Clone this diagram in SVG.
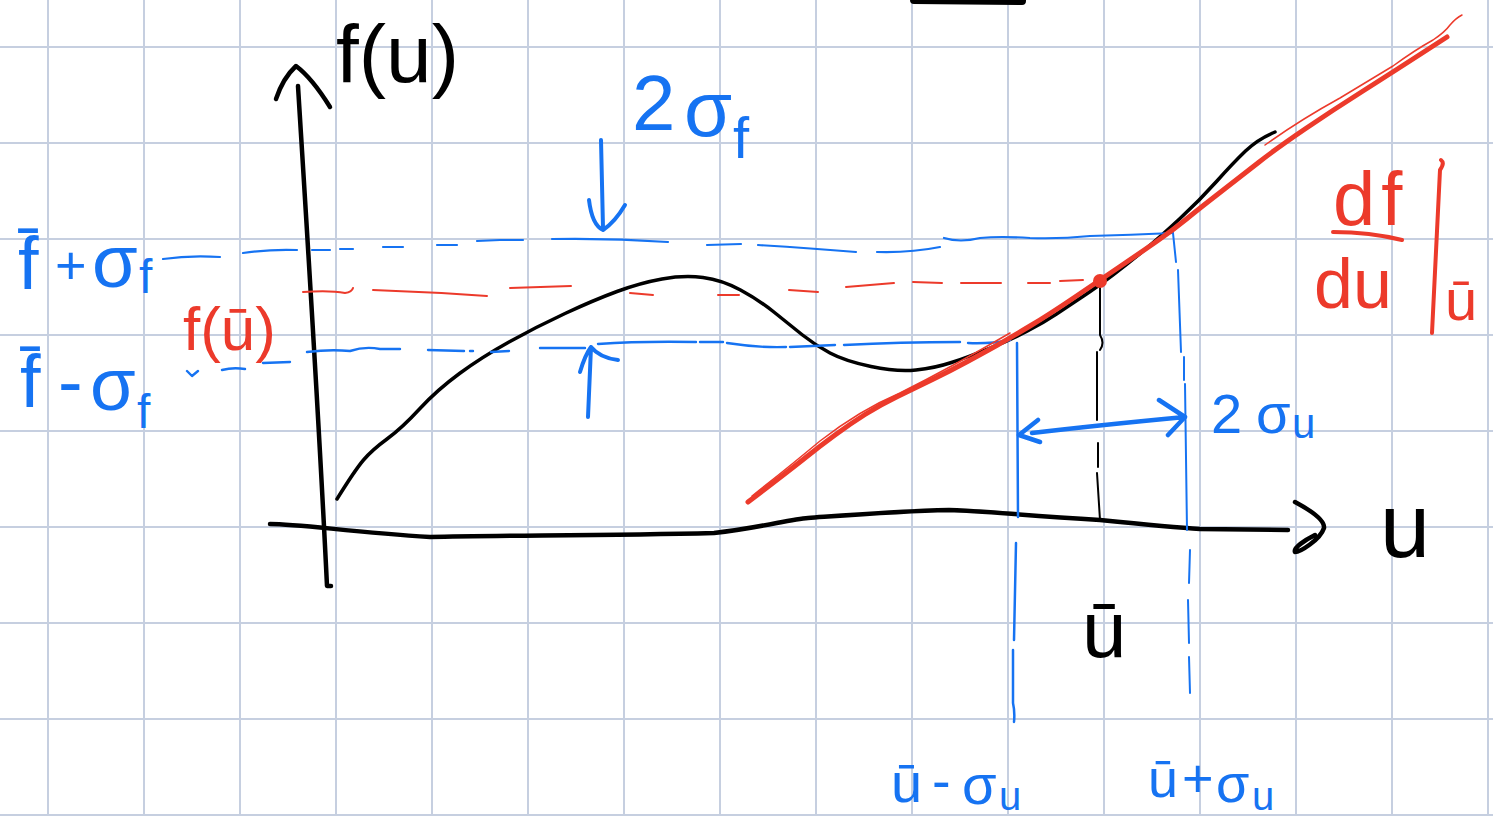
<svg xmlns="http://www.w3.org/2000/svg" width="1493" height="816" viewBox="0 0 1493 816">
<style>
.grid{stroke:#c6cfe0;stroke-width:2;fill:none}
.k{stroke:#000;fill:none;stroke-linecap:round;stroke-linejoin:round}
.b{stroke:#1673f2;fill:none;stroke-linecap:round;stroke-linejoin:round}
.r{stroke:#ec3a2b;fill:none;stroke-linecap:round;stroke-linejoin:round}
text{font-family:"Liberation Sans",Arial,sans-serif}
.tb{fill:#1673f2}
.tr{fill:#ec3a2b}
.tk{fill:#000}
</style>
<rect width="1493" height="816" fill="#fff"/>
<g id="grid" class="grid">
<path d="M48,0V816M144,0V816M240,0V816M336,0V816M432,0V816M528,0V816M624,0V816M720,0V816M816,0V816M912,0V816M1008,0V816M1104,0V816M1200,0V816M1296,0V816M1392,0V816M1488,0V816"/>
<path d="M0,47H1493M0,143H1493M0,239H1493M0,335H1493M0,431H1493M0,527H1493M0,623H1493M0,719H1493M0,815H1493"/>
</g>
<g id="top-stroke"><path class="k" stroke-width="8" d="M914,0 L1022,1"/></g>
<g id="connectors">
<!-- y axis -->
<path class="k" stroke-width="4.5" d="M298,86 C305,200 318,400 327,586 L331,586"/>
<path class="k" stroke-width="4.5" d="M276,99 Q283,78 296,66 Q312,78 330,107"/>
<!-- x axis -->
<path class="k" stroke-width="4.5" d="M270,524 C300,524 350,532 430,537 C500,535 600,536 714,533 C760,528 790,519 808,518 C850,515 900,511 949,510 C985,511 1017,515 1100,520 C1150,525 1184,528 1200,529 L1288,530"/>
<path class="k" stroke-width="4.5" d="M1295,502 C1310,510 1325,520 1324,528 C1320,540 1300,552 1295,552 C1293,548 1305,540 1315,535"/>
<!-- f(u) curve -->
<path class="k" stroke-width="3.5" d="M337,499 Q355,470 363.5,460 Q372,450 387,439 Q402,428 419.5,409 Q437,390 459.5,373.5 Q482,357 509,342 Q536,327 565,313.5 Q594,300 617,291.5 Q640,283 662,279 Q684,275 703,277.5 Q722,280 740.5,290 Q759,300 774.5,312.5 Q790,325 802.5,335 Q815,345 830,353 Q845,361 871,366.5 Q897,372 916,370 Q935,368 951.5,362.5 Q968,357 989,348.5 Q1010,340 1026.5,331.5 Q1043,323 1056.5,314 Q1070,305 1083.5,296 Q1097,287 1113.5,274.5 Q1130,262 1145,249.5 Q1160,237 1180,218.5 Q1200,200 1216.5,181.5 Q1233,163 1245.5,151 Q1258,139 1275,132"/>
<!-- blue upper level -->
<path class="b" stroke-width="2.2" d="M163,259 Q190,255 220,257 M243,253 Q270,249 297,250 M312,250 L330,250 M340,249 L353,249 M383,247 L403,247 M437,245 L457,245 M477,241 L500,240 L523,240 M552,239 Q610,238 668,242 M707,245 L741,244 M758,245 Q810,248 856,252 M877,252 Q910,253 940,247 M944,238 Q960,243 980,238 Q1000,236 1030,238 Q1060,239 1090,236 Q1130,235 1173,233"/>
<!-- red level -->
<path class="r" stroke-width="2" d="M303,292 Q330,290 345,293 Q352,292 353,288 M373,290 Q430,292 487,296 M510,288 L571,286 M630,293 L653,295 M718,295 L739,295 M789,290 L818,292 M846,287 Q870,285 894,283 M913,282 L942,283 M961,283 L1001,283 M1028,283 L1050,283 M1060,281 L1083,280"/>
<!-- blue lower level -->
<path class="b" stroke-width="2.4" d="M187,371 L192,376 L198,371 M222,370 Q233,367 245,369 M263,363 L290,362 M307,352 Q330,349 350,351 Q365,346 380,349 L400,349 M428,350 L464,351 M470,351 L473,351 M491,352 L509,351 M540,348 L585,348 M598,344 Q640,341 696,342 M700,342 L723,342 M727,343 Q760,348 786,347 M790,347 L835,345 M844,345 Q900,342 960,342 M968,343 Q990,344 1010,340"/>
<!-- blue verticals -->
<path class="b" stroke-width="2.5" d="M1017,343 L1018,517 M1016,543 L1014,640 M1013,650 L1013,703 Q1015,712 1014,722"/>
<path class="b" stroke-width="2" d="M1173,233 L1176,262 M1178,270 L1181,352 M1184,357 L1184,380 M1185,384 L1187,530 M1190,550 L1189,583 M1188,600 L1189,643 M1189,657 L1190,693"/>
<!-- black dashed vertical at u-bar -->
<path class="k" stroke-width="2" d="M1100,287 L1100,335 Q1105,343 1100,350 M1097,352 L1097,420 M1098,443 L1098,467 M1097,473 L1100,520"/>
<!-- red tangent -->
<path class="r" stroke-width="5" d="M748,502 Q790,470 805,458 Q820,446 835,435 Q850,424 865,414.5 Q880,405 897.5,396.5 Q915,388 932.5,379.5 Q950,371 967.5,361.5 Q985,352 997.5,345 Q1010,338 1030,326 Q1050,314 1075,297 Q1100,280 1120,266.5 Q1140,253 1156.5,241.5 Q1173,230 1186.5,219 Q1200,208 1220,192.5 Q1240,177 1258.5,162.5 Q1277,148 1305,129 Q1333,110 1363,91 Q1393,72 1447,37"/>
<path class="r" stroke-width="1.5" d="M752,496 Q790,466 820,441 Q860,410 900,393 Q950,368 1010,333"/>
<path class="r" stroke-width="1.5" d="M1265,145 Q1300,120 1340,98 Q1370,80 1393,66 Q1415,50 1433,40 Q1445,32 1450,25 Q1456,18 1462,15"/>
<circle cx="1100" cy="281" r="7" fill="#ec3a2b"/>
<!-- blue arrows -->
<path class="b" stroke-width="4" d="M601,140 L603,228 M589,200 Q592,225 603,230 Q615,222 625,205"/>
<path class="b" stroke-width="4" d="M588,417 L591,347 M580,372 Q585,355 591,347 Q600,358 618,360"/>
<path class="b" stroke-width="4.5" d="M1032,433 Q1100,425 1185,417 M1038,420 L1019,435 L1040,442 M1159,400 L1185,417 L1168,435"/>
<!-- red derivative bars -->
<path class="r" stroke-width="4" d="M1333,232 Q1370,232 1402,240 M1441,160 Q1445,163 1440,170 L1432,333"/>
</g>
<g id="label-fu"><text class="tk" x="336" y="82" font-size="82">f(u)</text></g>
<g id="label-2sf"><text class="tb" font-size="78"><tspan x="632" y="130">2</tspan><tspan x="684" y="136">σ</tspan><tspan x="733" y="158" font-size="58">f</tspan></text></g>
<g id="label-fplus"><text class="tb" font-size="74"><tspan x="18" y="289">f̄</tspan><tspan x="55" y="284" font-size="54">+</tspan><tspan x="92" y="287">σ</tspan><tspan x="139" y="293" font-size="48">f</tspan></text></g>
<g id="label-fminus"><text class="tb" font-size="74"><tspan x="20" y="407">f̄</tspan><tspan x="58" y="407">-</tspan><tspan x="90" y="410">σ</tspan><tspan x="137" y="428" font-size="48">f</tspan></text></g>
<g id="label-fubar"><text class="tr" x="183" y="350" font-size="62">f(ū)</text></g>
<g id="label-2su"><text class="tb" font-size="56"><tspan x="1211" y="433">2</tspan><tspan x="1256" y="433">σ</tspan><tspan x="1292" y="438" font-size="42">u</tspan></text></g>
<g id="label-u"><text class="tk" x="1380" y="557" font-size="90">u</text></g>
<g id="label-ubar"><text class="tk" x="1082" y="657" font-size="80">ū</text></g>
<g id="label-uminus"><text class="tb" font-size="56"><tspan x="891" y="802">ū</tspan><tspan x="932" y="800">-</tspan><tspan x="962" y="804">σ</tspan><tspan x="999" y="810" font-size="40">u</tspan></text></g>
<g id="label-uplus"><text class="tb" font-size="54"><tspan x="1148" y="797">ū</tspan><tspan x="1182" y="797">+</tspan><tspan x="1216" y="802">σ</tspan><tspan x="1252" y="810" font-size="40">u</tspan></text></g>
<g id="label-deriv"><text class="tr" font-size="76"><tspan x="1333" y="225" letter-spacing="6">df</tspan><tspan x="1314" y="308" font-size="70">du</tspan><tspan x="1445" y="320" font-size="58">ū</tspan></text></g>
</svg>
